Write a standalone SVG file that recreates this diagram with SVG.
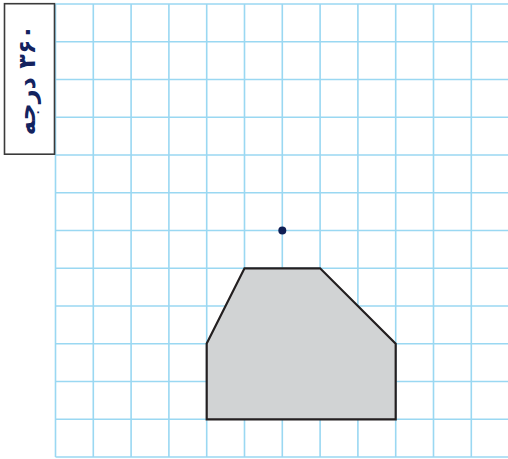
<svg xmlns="http://www.w3.org/2000/svg" width="508" height="459" viewBox="0 0 508 459">
<style>
.g{stroke:#9ad8f2;stroke-width:1.6;fill:none}
.shape{fill:#d1d3d4;stroke:#231f20;stroke-width:2.2;stroke-linejoin:miter}
.lbl{font-family:"DejaVu Sans","Noto Sans",sans-serif;font-weight:bold;font-size:24px;fill:#13235f}
</style>
<rect width="508" height="459" fill="#ffffff"/>
<g id="grid" class="g">
<path d="M55.5 4V457M93.3 4V457M131.1 4V457M168.9 4V457M206.7 4V457M244.5 4V457M282.3 4V457M320.1 4V457M357.9 4V457M395.7 4V457M433.5 4V457M471.3 4V457"/>
<path d="M55.5 4H508M55.5 41.75H508M55.5 79.5H508M55.5 117.25H508M55.5 155H508M55.5 192.75H508M55.5 230.5H508M55.5 268.25H508M55.5 306H508M55.5 343.75H508M55.5 381.5H508M55.5 419.25H508M55.5 457H508"/>
</g>
<g id="label">
<rect x="4.5" y="3.7" width="50" height="150.5" fill="#ffffff" stroke="#3a3a3a" stroke-width="1.6"/>
<text class="lbl" transform="translate(35,80) rotate(-90)" text-anchor="middle" direction="rtl">۳۶۰ درجه</text>
</g>
<g id="polygon">
<polygon class="shape" points="206.7,419.3 206.7,343.6 244.5,268.3 320.1,268.3 395.7,343.6 395.7,419.3"/>
</g>
<g id="center">
<circle cx="282.3" cy="230.5" r="4" fill="#0f1f55"/>
</g>
</svg>
